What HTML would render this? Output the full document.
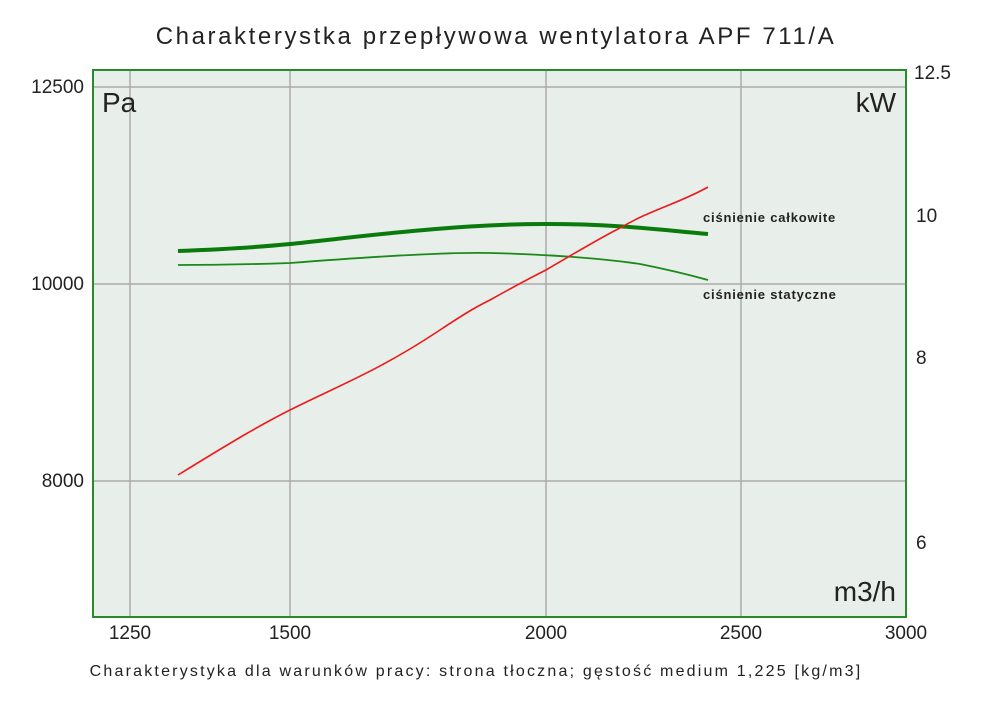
<!DOCTYPE html>
<html><head><meta charset="utf-8"><style>
body{margin:0;background:#fff;width:1000px;height:706px;overflow:hidden}
svg{display:block}
text{font-family:"Liberation Sans","DejaVu Sans",sans-serif;fill:#222}
</style></head><body>
<svg width="1000" height="706" xmlns="http://www.w3.org/2000/svg">
<text x="496" y="44" font-size="24" text-anchor="middle" letter-spacing="2.6">Charakterystka przepływowa wentylatora APF 711/A</text>
<rect x="93" y="70" width="813" height="547" fill="#e8eeea"/>
<g stroke="#aaa" stroke-width="1.5">
<line x1="130" y1="70" x2="130" y2="617"/>
<line x1="290" y1="70" x2="290" y2="617"/>
<line x1="546" y1="70" x2="546" y2="617"/>
<line x1="741" y1="70" x2="741" y2="617"/>
<line x1="93" y1="87" x2="906" y2="87"/>
<line x1="93" y1="284" x2="906" y2="284"/>
<line x1="93" y1="481" x2="906" y2="481"/>
</g>
<rect x="93" y="70" width="813" height="547" fill="none" stroke="#2a8a2a" stroke-width="2"/>
<text x="102" y="112" font-size="28">Pa</text>
<text x="896" y="112" font-size="28" text-anchor="end">kW</text>
<text x="896" y="601" font-size="28" text-anchor="end">m3/h</text>
<g font-size="19" text-anchor="end">
<text x="84" y="93">12500</text>
<text x="84" y="290">10000</text>
<text x="84" y="487">8000</text>
</g>
<g font-size="19">
<text x="914" y="79">12.5</text>
<text x="916" y="222">10</text>
<text x="916" y="364">8</text>
<text x="916" y="549">6</text>
</g>
<g font-size="19" text-anchor="middle">
<text x="130" y="639">1250</text>
<text x="290" y="639">1500</text>
<text x="546" y="639">2000</text>
<text x="741" y="639">2500</text>
<text x="906" y="639">3000</text>
</g>
<path d="M178,251 C230,249 260,247 290,244 C350,238 450,224 546,224 C620,224 660,230 708,234" fill="none" stroke="#0a7a0a" stroke-width="4"/>
<path d="M178,265 C230,265 260,264 290,263 C380,256 450,252 490,253 C540,254 600,258 640,264 C670,270 690,275 708,280" fill="none" stroke="#1a8a1a" stroke-width="1.8"/>
<path d="M178,475 C230,443 260,425 290,410 C340,385 380,370 440,330 C470,310 480,305 490,300 C515,286 530,278 546,270 C580,250 600,238 620,228 C650,210 680,203 708,187" fill="none" stroke="#ee1a1a" stroke-width="1.6"/>
<text x="703" y="222" font-size="13" font-weight="bold" letter-spacing="0.8">ciśnienie całkowite</text>
<text x="703" y="299" font-size="13" font-weight="bold" letter-spacing="0.8">ciśnienie statyczne</text>
<text x="476" y="676" font-size="16" text-anchor="middle" letter-spacing="2.2">Charakterystyka dla warunków pracy: strona tłoczna; gęstość medium 1,225 [kg/m3]</text>
</svg>
</body></html>
